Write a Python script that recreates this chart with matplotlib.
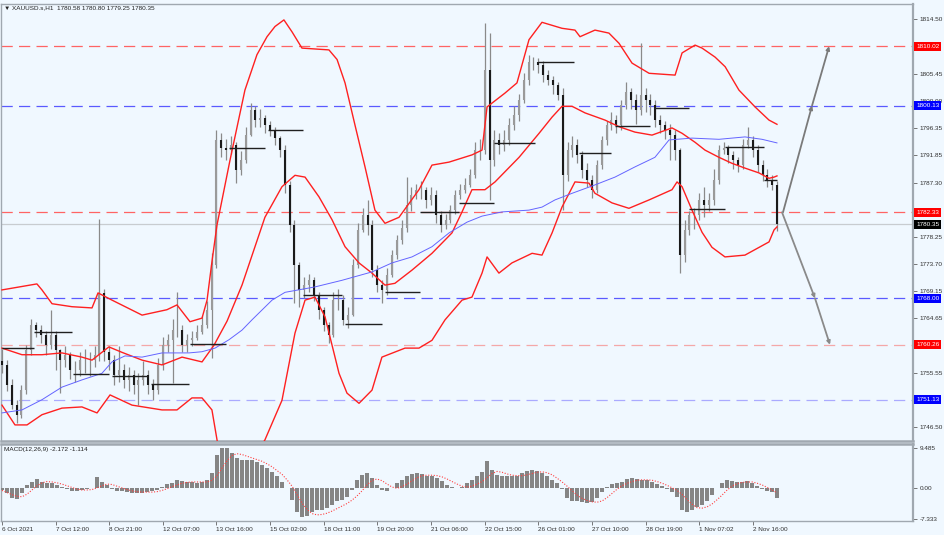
import matplotlib.pyplot as plt
import numpy as np

BG = "#f0f8ff"
RED = "#ff2020"
GRID_GREY = "#a0a8b0"

# ---- price bars (3-hour sampling, hours from 6 Oct 2021) ----
first_open = 1757.5
closes = [
    1756.9, 1753.5, 1750.2, 1748.5, 1752.7, 1759.4, 1763.5, 1762.7, 1761.9, 1760.2,
    1761.9, 1759.4, 1757.7, 1758.5, 1756.0, 1756.0, 1757.7, 1757.7, 1757.7, 1758.5,
    1768.9, 1759.0, 1757.7, 1755.2, 1756.0, 1754.4, 1755.2, 1753.5, 1754.4, 1755.2,
    1753.5, 1752.7, 1756.9, 1760.2, 1761.0, 1762.7, 1762.7, 1760.2, 1761.0, 1761.4,
    1762.4, 1763.5, 1766.0, 1773.5, 1794.4, 1793.0, 1792.7, 1793.5, 1789.4, 1791.0,
    1795.2, 1799.4, 1797.7, 1798.0, 1796.9, 1796.0, 1794.7, 1792.7, 1786.9, 1780.2,
    1773.5, 1769.4, 1770.2, 1771.0, 1768.5, 1766.0, 1763.5, 1761.9, 1767.7, 1767.7,
    1764.4, 1765.2, 1773.5, 1779.4, 1781.9, 1780.2, 1772.7, 1770.2, 1769.4, 1771.9,
    1775.2, 1777.7, 1779.7, 1783.5, 1785.2, 1786.0, 1786.0, 1784.4, 1785.2, 1781.9,
    1780.2, 1781.0, 1782.7, 1785.2, 1786.0, 1786.9, 1788.5, 1792.7, 1792.7, 1806.0,
    1791.0, 1794.4, 1793.5, 1794.4, 1796.9, 1798.5, 1801.0, 1804.4, 1807.4, 1807.4,
    1806.9, 1805.2, 1804.4, 1803.5, 1801.9, 1788.5, 1792.7, 1793.5, 1791.9, 1789.4,
    1787.7, 1786.0, 1790.2, 1794.4, 1796.9, 1797.7, 1796.9, 1800.2, 1802.4, 1801.0,
    1799.4, 1801.9, 1801.0, 1800.2, 1797.7, 1796.9, 1796.0, 1795.2, 1792.7, 1775.2,
    1779.4, 1781.9, 1781.9, 1784.4, 1783.5, 1784.4, 1787.7, 1792.7, 1793.0, 1791.9,
    1791.0, 1790.2, 1793.5, 1794.4, 1792.7, 1790.2, 1788.5, 1787.7, 1786.9, 1780.35,
]
highs = [
    1759.5, 1757.8, 1754.5, 1751.0, 1753.5, 1760.2, 1764.5, 1764.0, 1763.5, 1762.5,
    1766.0, 1762.5, 1759.5, 1760.0, 1759.0, 1757.5, 1759.0, 1759.5, 1759.0, 1760.0,
    1781.3, 1769.5, 1760.0, 1758.5, 1760.0, 1757.0, 1756.5, 1756.0, 1755.5, 1757.5,
    1756.0, 1754.5, 1758.0, 1761.5, 1762.0, 1764.5, 1769.0, 1763.5, 1762.0, 1762.5,
    1763.5, 1765.0, 1767.5, 1775.5, 1796.0, 1795.5, 1794.5, 1795.0, 1794.0, 1792.5,
    1796.5, 1800.5, 1800.0, 1799.5, 1798.5, 1797.5, 1796.5, 1795.0, 1793.5, 1787.5,
    1781.0, 1774.0, 1771.5, 1772.0, 1771.5, 1769.0, 1766.5, 1764.0, 1769.0, 1769.5,
    1768.5, 1766.5, 1774.5, 1780.5, 1783.0, 1784.4, 1781.0, 1773.5, 1771.0, 1773.0,
    1776.0, 1778.5, 1781.0, 1788.2, 1786.5, 1787.0, 1787.5, 1786.5, 1786.5, 1786.0,
    1782.5, 1782.0, 1783.5, 1786.0, 1787.0, 1788.0, 1789.5, 1794.0, 1794.5, 1813.9,
    1812.2, 1796.0, 1795.5, 1796.0, 1798.0, 1800.0, 1802.0, 1805.5, 1808.5, 1808.2,
    1808.0, 1807.5, 1806.0, 1805.0, 1804.0, 1803.0, 1794.0, 1795.0, 1794.5, 1792.5,
    1790.5, 1788.5, 1791.0, 1795.0, 1797.5, 1799.0, 1798.5, 1801.0, 1804.0, 1803.0,
    1802.0, 1810.5, 1803.0, 1802.0, 1801.0, 1798.5, 1797.5, 1797.0, 1796.0, 1793.0,
    1781.0, 1782.5, 1783.0, 1785.5, 1786.5, 1785.5, 1789.5, 1793.5, 1794.0, 1793.5,
    1792.5, 1791.5, 1794.5, 1796.5, 1795.0, 1793.5, 1791.0, 1789.5, 1788.5, 1787.5,
]
lows = [
    1755.5, 1752.5, 1749.5, 1747.2, 1748.0, 1752.0, 1758.5, 1761.5, 1760.5, 1758.5,
    1759.5, 1756.0, 1752.2, 1756.5, 1754.5, 1754.0, 1755.0, 1755.5, 1755.0, 1756.5,
    1757.5, 1757.5, 1756.0, 1753.5, 1754.0, 1753.0, 1752.5, 1752.0, 1750.2, 1753.5,
    1752.0, 1751.0, 1752.0, 1756.0, 1759.0, 1753.9, 1761.5, 1759.0, 1759.0, 1760.0,
    1761.0, 1762.0, 1763.0, 1758.0, 1773.0, 1791.5, 1791.0, 1792.0, 1787.2, 1788.5,
    1790.5, 1795.0, 1796.5, 1796.5, 1795.5, 1795.0, 1793.5, 1791.5, 1785.5, 1779.0,
    1767.2, 1766.5, 1768.0, 1769.0, 1767.5, 1764.5, 1762.5, 1760.5, 1761.5, 1766.0,
    1763.5, 1763.0, 1765.0, 1773.0, 1779.0, 1778.5, 1771.5, 1769.0, 1767.2, 1768.5,
    1771.5, 1774.5, 1777.0, 1779.0, 1782.5, 1784.5, 1784.5, 1783.0, 1783.5, 1780.5,
    1779.0, 1779.5, 1780.5, 1782.0, 1784.5, 1785.5, 1786.5, 1788.0, 1791.0, 1792.0,
    1784.4, 1790.0, 1792.0, 1792.5, 1793.5, 1796.0, 1797.5, 1800.5, 1803.5, 1806.0,
    1805.5, 1804.0, 1803.5, 1802.0, 1801.0, 1782.7, 1787.5, 1791.5, 1790.5, 1788.0,
    1786.5, 1784.8, 1785.5, 1789.5, 1793.5, 1796.0, 1795.5, 1796.0, 1799.5, 1799.5,
    1797.0, 1798.5, 1799.0, 1798.5, 1796.5, 1795.5, 1794.5, 1791.0, 1791.0, 1772.2,
    1774.0, 1778.5, 1779.5, 1781.0, 1781.5, 1782.5, 1783.5, 1787.0, 1792.0, 1790.5,
    1789.5, 1789.0, 1789.5, 1793.0, 1791.5, 1789.0, 1787.5, 1786.5, 1786.0, 1779.25,
]
bar_step_hours = 3

# ---- Bollinger bands and moving average (hour, price) ----
bb_upper_h = [0, 21.5, 24.6, 30.8, 43.1, 55.4, 59.1, 67.7, 86.2, 101.5, 107.7, 115.7,
              123.1, 126.2, 129.2, 132.3, 140.3, 149.5, 156.9, 163.1, 168.0, 173.5,
              178.5, 184.6, 201.2, 206.2, 211.1, 217.2, 223.4, 229.5, 235.7, 244.3,
              256.6, 264.6, 275.1, 289.2, 295.4, 298.5, 309.5, 316.9, 324.3, 332.3,
              344.6, 352.6, 355.7, 364.9, 373.5, 379.7, 387.7, 398.2, 414.2, 418.5,
              426.5, 430.8, 438.8, 445.0, 453.5, 463.4, 472.0, 476.9]
bb_upper_v = [1769.4, 1770.4, 1769.4, 1767.1, 1766.6, 1766.4, 1768.9, 1767.7, 1765.2,
              1766.1, 1766.9, 1764.1, 1764.7, 1767.7, 1774.1, 1780.2, 1791.0, 1802.7,
              1808.6, 1811.6, 1813.3, 1814.4, 1812.4, 1809.7, 1809.4, 1807.8, 1803.9,
              1796.9, 1789.9, 1782.7, 1780.5, 1781.5, 1786.1, 1790.2, 1790.7, 1791.9,
              1792.7, 1799.9, 1802.2, 1803.9, 1811.1, 1814.0, 1813.0, 1812.7, 1811.6,
              1812.7, 1812.2, 1810.5, 1807.2, 1805.5, 1805.2, 1808.9, 1810.2, 1809.7,
              1808.2, 1806.6, 1802.7, 1799.9, 1797.7, 1797.0]
bb_mid_h = [0, 12.3, 24.6, 36.9, 49.2, 55.4, 61.5, 65.8, 73.8, 86.2, 98.5, 110.8,
            123.1, 130.5, 138.5, 147.7, 161.8, 172.3, 180.3, 186.5, 195.1, 203.1,
            211.1, 219.7, 227.7, 235.7, 241.8, 252.3, 264.6, 276.9, 283.1, 289.2,
            297.2, 303.4, 318.2, 330.5, 338.5, 344.6, 350.8, 358.8, 371.1, 379.7,
            389.5, 400.0, 412.3, 418.5, 426.5, 432.6, 441.2, 449.2, 457.2, 465.8,
            472.0, 475.1, 476.9]
bb_mid_v = [1759.7, 1758.6, 1758.6, 1758.9, 1758.2, 1757.7, 1759.0, 1759.9, 1759.0,
            1757.7, 1756.9, 1758.2, 1757.4, 1760.2, 1764.2, 1770.2, 1781.5, 1786.6,
            1788.5, 1788.2, 1784.9, 1781.1, 1776.6, 1773.9, 1772.2, 1770.2, 1770.5,
            1772.7, 1775.5, 1778.9, 1782.4, 1786.1, 1786.1, 1787.4, 1791.5, 1795.5,
            1798.2, 1800.0, 1800.0, 1798.9, 1797.7, 1796.6, 1795.7, 1795.2, 1796.4,
            1795.5, 1794.0, 1792.7, 1791.5, 1790.5, 1789.7, 1788.9, 1788.0, 1788.2,
            1788.4]
bb_lower_h = [0, 8.0, 15.4, 24.6, 36.9, 49.2, 58.5, 66.5, 80.0, 98.5, 107.7, 116.9,
              123.1, 129.2, 132.9, 140.0, 147.7, 153.8, 161.8, 172.3, 180.3, 186.5,
              192.6, 198.8, 207.4, 212.3, 219.7, 227.7, 233.8, 248.0, 256.6, 264.6,
              272.6, 283.1, 289.2, 295.4, 298.5, 305.8, 313.8, 326.2, 332.3, 338.5,
              344.6, 352.6, 361.2, 364.9, 375.4, 385.8, 398.2, 412.3, 415.4, 418.5,
              424.6, 430.8, 436.9, 444.9, 457.2, 472.0, 475.1, 476.9]
bb_lower_v = [1750.2, 1746.9, 1746.9, 1748.6, 1749.7, 1749.9, 1748.9, 1751.9, 1750.2,
              1749.4, 1749.4, 1751.4, 1751.4, 1749.4, 1743.5, 1737.0, 1739.0, 1741.0,
              1744.4, 1751.0, 1762.2, 1767.7, 1768.2, 1764.9, 1755.5, 1752.2, 1750.5,
              1752.7, 1758.2, 1759.7, 1759.7, 1761.0, 1764.4, 1767.7, 1768.2, 1772.2,
              1774.9, 1772.2, 1773.9, 1775.5, 1775.2, 1778.9, 1783.2, 1787.4, 1787.2,
              1785.5, 1783.9, 1783.0, 1784.4, 1786.1, 1787.4, 1786.6, 1782.7, 1779.0,
              1776.5, 1774.9, 1775.2, 1777.4, 1779.4, 1779.9]
ma_h = [0, 12.3, 24.6, 36.9, 49.2, 61.5, 67.7, 75.7, 86.2, 98.5, 115.1, 123.1, 131.1,
        139.7, 147.7, 153.8, 166.2, 174.2, 192.6, 209.2, 227.7, 240.0, 252.3, 264.6,
        275.1, 286.2, 295.4, 307.7, 324.3, 332.3, 340.3, 350.8, 364.9, 377.2, 389.5,
        401.8, 410.5, 424.6, 441.2, 457.2, 467.7, 476.9]
ma_v = [1748.9, 1749.4, 1751.1, 1753.2, 1754.4, 1755.5, 1757.4, 1758.4, 1758.2, 1758.9,
        1758.9, 1759.1, 1759.7, 1761.1, 1762.7, 1764.4, 1767.7, 1769.0, 1769.9, 1771.0,
        1772.4, 1773.9, 1774.9, 1776.6, 1778.9, 1780.7, 1781.7, 1782.4, 1782.7, 1783.2,
        1784.4, 1785.5, 1786.9, 1788.2, 1789.9, 1791.5, 1794.4, 1794.7, 1794.5, 1794.9,
        1794.5, 1793.9]

# ---- daily reference segments (start hour, end hour, price) ----
seg_start = [0, 20, 44, 68, 92, 116, 140, 164, 185, 211, 236, 257, 281, 303, 330,
             355, 377, 401, 423, 445, 469]
seg_end = [20, 43, 66, 90, 115, 138, 162, 185, 209, 234, 257, 281, 303, 328, 352,
           375, 399, 423, 445, 469, 477]
seg_price = [1759.7, 1762.4, 1755.4, 1755.0, 1753.7, 1760.4, 1793.0, 1796.0, 1768.5,
             1763.7, 1769.0, 1782.4, 1783.9, 1793.9, 1807.4, 1792.2, 1796.7, 1799.7,
             1782.9, 1793.2, 1787.7]

# ---- horizontal levels ----
level_prices = [1810.02, 1800.13, 1782.33, 1768.00, 1760.26, 1751.13]
level_colors = ["#ff6464", "#5a5aff", "#ff6464", "#5a5aff", "#f4a8a8", "#aaaaff"]
level_box = ["#ff0000", "#0000ff", "#ff0000", "#0000ff", "#ff0000", "#0000ff"]
last_price = 1780.35

# ---- projection arrows (hour, price) ----
up_path_h = [480.6, 498.5, 509.0]
up_path_v = [1782.33, 1800.13, 1810.02]
down_path_h = [480.0, 500.3, 509.5]
down_path_v = [1782.33, 1768.00, 1760.26]

# ---- MACD(12,26,9) ----
macd_hist = [
    -0.3, -1.2, -2.2, -2.6, -1.0, 0.8, 1.6, 2.1, 1.6, 1.3, 1.2, 0.8, 0.4, -0.2, -0.6,
    -0.6, -0.4, -0.2, 0.0, 2.7, 1.6, 0.8, -0.2, -0.6, -0.6, -0.8, -1.0, -1.2, -1.0,
    -0.8, -0.6, -0.4, 0.2, 1.0, 1.3, 2.0, 1.7, 1.6, 1.4, 1.3, 1.4, 2.0, 3.6, 7.9, 9.5,
    9.5, 8.3, 7.1, 6.7, 6.6, 6.6, 6.2, 5.5, 4.7, 3.9, 2.8, 1.6, 0.0, -2.8, -5.5, -6.9,
    -6.5, -5.5, -5.1, -5.1, -4.7, -4.0, -2.9, -2.8, -2.0, -0.4, 2.0, 3.2, 3.6, 2.4, 0.8,
    -0.4, -0.6, 0.0, 1.2, 2.0, 2.8, 3.4, 3.7, 3.3, 2.9, 2.8, 2.4, 1.8, 0.8, 0.2, 0.0,
    0.4, 1.2, 2.0, 2.8, 3.9, 6.5, 4.3, 3.2, 2.8, 2.8, 2.8, 2.9, 3.6, 4.2, 4.3, 4.2, 3.6,
    2.8, 2.0, 1.2, -0.2, -2.4, -2.9, -3.0, -3.2, -3.4, -3.2, -2.4, -0.8, 0.4, 1.0, 1.2,
    1.6, 2.1, 2.4, 2.2, 2.0, 2.0, 1.6, 1.0, 0.6, -0.2, -0.8, -2.0, -5.1, -5.5, -5.1,
    -4.5, -4.0, -2.9, -1.6, 0.0, 1.3, 2.0, 1.7, 1.6, 1.6, 1.7, 1.3, 0.6, -0.2, -0.6,
    -0.8, -2.2,
]
macd_signal = [
    -0.5, -1.0, -1.5, -1.9, -2.0, -1.4, -0.4, 0.6, 1.3, 1.6, 1.5, 1.3, 1.0, 0.6, 0.2,
    -0.2, -0.4, -0.4, -0.3, 0.1, 0.6, 1.0, 0.9, 0.5, 0.1, -0.3, -0.6, -0.8, -0.9, -0.9,
    -0.9, -0.8, -0.5, -0.1, 0.4, 0.8, 1.2, 1.4, 1.5, 1.5, 1.5, 1.5, 1.9, 3.0, 4.8, 6.5,
    7.8, 8.2, 8.0, 7.6, 7.2, 6.8, 6.4, 5.8, 5.1, 4.2, 3.3, 2.0, 0.5, -1.5, -3.5, -5.0,
    -6.0, -6.3, -6.2, -5.9, -5.4, -4.8, -4.2, -3.6, -2.8, -1.8, -0.6, 0.8, 1.9, 2.2,
    1.8, 1.0, 0.3, 0.0, 0.4, 1.0, 1.8, 2.5, 3.0, 3.1, 3.1, 3.0, 2.7, 2.2, 1.6, 1.0, 0.5,
    0.3, 0.5, 1.0, 1.6, 2.5, 3.5, 4.0, 3.8, 3.4, 3.1, 3.0, 3.0, 3.2, 3.5, 3.8, 3.9, 3.7,
    3.2, 2.4, 1.5, 0.5, -0.6, -1.6, -2.4, -2.9, -3.2, -3.3, -3.0, -2.2, -1.2, -0.2, 0.6,
    1.2, 1.6, 1.9, 2.0, 2.0, 1.9, 1.6, 1.2, 0.7, 0.1, -0.5, -1.5, -2.7, -3.8, -4.6,
    -4.7, -4.4, -3.7, -2.7, -1.6, -0.4, 0.5, 1.1, 1.4, 1.5, 1.5, 1.2, 0.8, 0.2, -0.4,
    -1.1,
]

# scale labels that are not covered by the level boxes
price_ticks = [1814.50, 1805.45, 1800.90, 1796.35, 1791.85, 1787.30, 1778.25, 1773.70,
               1769.15, 1764.65, 1755.55, 1746.50]
date_hours = [0, 33, 66, 99, 132, 165, 198, 231, 264, 297, 330, 363, 396, 429, 462]
date_labels = ["6 Oct 2021", "7 Oct 12:00", "8 Oct 21:00", "12 Oct 07:00",
               "13 Oct 16:00", "15 Oct 02:00", "18 Oct 11:00", "19 Oct 20:00",
               "21 Oct 06:00", "22 Oct 15:00", "26 Oct 01:00", "27 Oct 10:00",
               "28 Oct 19:00", "1 Nov 07:02", "2 Nov 16:00"]

FONT = "Liberation Sans"
FS = 4.6

W, H = 945, 535
fig = plt.figure(figsize=(W / 100, H / 100), dpi=100, facecolor=BG)
ax = fig.add_axes([1 / W, 1 - 441 / H, 912 / W, 437 / H], facecolor=BG)
axm = fig.add_axes([1 / W, 14 / H, 912 / W, 77 / H], facecolor=BG, sharex=ax)

# price bars
closes_a = np.array(closes)
opens_a = np.r_[first_open, closes_a[:-1]]
hours = np.arange(len(closes)) * bar_step_hours
ax.vlines(hours, lows, highs, color="#8a8a8a", lw=0.9, zorder=3)
bull = closes_a >= opens_a
ax.vlines(hours[bull], opens_a[bull], closes_a[bull], color="#9a9a9a", lw=1.5, zorder=4)
ax.vlines(hours[~bull], opens_a[~bull], closes_a[~bull], color="#1a1a1a", lw=1.5, zorder=4)

# indicators
ax.plot(bb_upper_h, bb_upper_v, color=RED, lw=1.0, zorder=5)
ax.plot(bb_mid_h, bb_mid_v, color=RED, lw=1.0, zorder=5)
ax.plot(bb_lower_h, bb_lower_v, color=RED, lw=1.0, zorder=5)
ax.plot(ma_h, ma_v, color="#6464ff", lw=0.7, zorder=5)
ax.hlines(seg_price, seg_start, seg_end, color="#202020", lw=1.0, zorder=6)

# levels
for p, c in zip(level_prices, level_colors):
    ax.axhline(p, color=c, lw=0.9, dashes=(9, 5), zorder=2)
ax.axhline(last_price, color="#c8ccd0", lw=0.9, zorder=1)

# projection arrows
for ph, pv, col in [(up_path_h, up_path_v, "#7a7a7a"), (down_path_h, down_path_v, "#8a8a8a")]:
    for i in range(len(ph) - 1):
        ax.annotate("", xy=(ph[i + 1], pv[i + 1]), xytext=(ph[i], pv[i]),
                    arrowprops=dict(arrowstyle="-|>", color=col, lw=1.3,
                                    mutation_scale=5, shrinkA=0, shrinkB=0), zorder=7)

ax.set_xlim(-0.6, 560.6)
ax.set_ylim(1744.22, 1817.05)
ax.yaxis.tick_right()
ax.set_yticks(price_ticks)
ax.set_yticklabels([f"{t:.2f}" for t in price_ticks], fontsize=FS, family=FONT, color="#303030")
ax.tick_params(axis="y", length=3, width=0.6, color="#606060", pad=2)
ax.tick_params(axis="x", bottom=False, labelbottom=False)
for s in ax.spines.values():
    s.set_color(GRID_GREY)
    s.set_linewidth(1.0)
ax.spines["right"].set_linewidth(1.6)
ax.spines["bottom"].set_linewidth(1.8)

for p, bc in zip(level_prices + [last_price], level_box + ["#000000"]):
    ax.text(1.0035, p, f"{p:.2f}", transform=ax.get_yaxis_transform(), fontsize=FS,
            family=FONT, color="white", ha="left", va="center", zorder=10, clip_on=False,
            bbox=dict(boxstyle="square,pad=0.3", fc=bc, ec="none"))

# MACD pane
n = len(macd_hist)
mh = np.linspace(0, hours[-1], n)
axm.bar(mh, macd_hist, width=2.3, color="#858585", zorder=3)
axm.plot(np.linspace(0, hours[-1], len(macd_signal)), macd_signal, color="#ff4040",
         lw=0.8, ls=(0, (1, 1.5)), zorder=4)
axm.set_ylim(-7.75, 10.5)
axm.yaxis.tick_right()
axm.set_yticks([9.485, 0.0, -7.333])
axm.set_yticklabels(["9.485", "0.00", "-7.333"], fontsize=FS, family=FONT, color="#303030")
axm.tick_params(axis="y", length=3, width=0.6, color="#606060", pad=2)
axm.set_xticks(date_hours)
axm.set_xticklabels(date_labels, fontsize=FS, family=FONT, color="#303030", ha="left")
axm.tick_params(axis="x", length=3, width=0.6, color="#606060", pad=1.5)
for s in axm.spines.values():
    s.set_color(GRID_GREY)
    s.set_linewidth(1.0)
axm.spines["right"].set_linewidth(1.6)
axm.spines["top"].set_linewidth(1.8)

fig.text(4 / W, 1 - 8 / H, "\u25BC XAUUSD.s,H1  1780.58 1780.80 1779.25 1780.35",
         fontsize=FS, family=[FONT, "DejaVu Sans"], color="#202020", va="center")
fig.text(4 / W, 1 - 449 / H, "MACD(12,26,9) -2.172 -1.114", fontsize=FS, family=FONT,
         color="#202020", va="center")

fig.savefig("out.png", dpi=100, facecolor=BG)
